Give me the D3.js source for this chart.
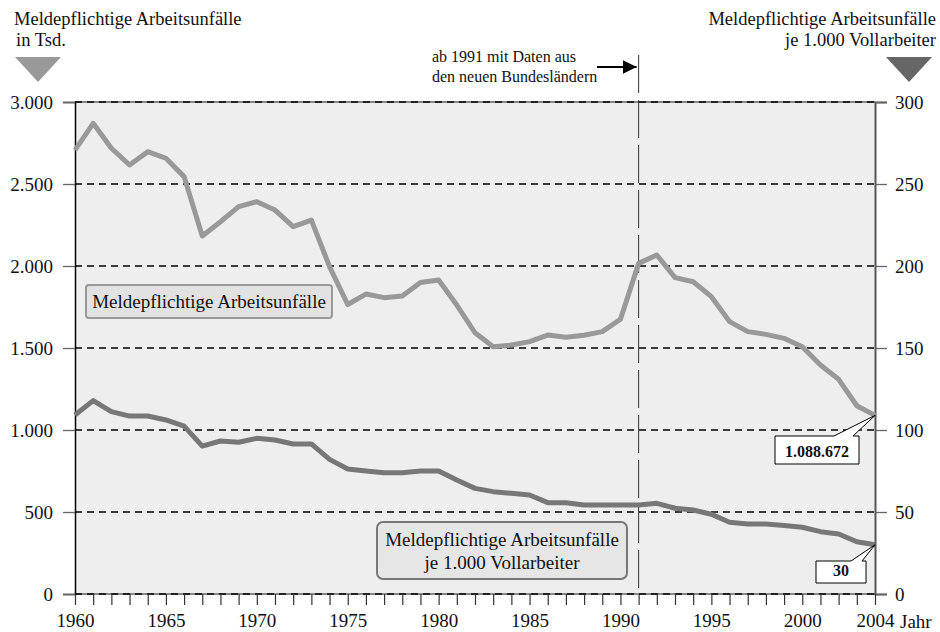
<!DOCTYPE html>
<html>
<head>
<meta charset="utf-8">
<script src="https://cdn.jsdelivr.net/npm/d3@7"></script>
<style>
  body { margin: 0; background: #fff; }
  text { font-family: "Liberation Serif", "DejaVu Serif", serif; fill: #111; }
</style>
</head>
<body>
<svg id="chart" width="940" height="632"></svg>
<script>
// data
const years = d3.range(1960, 2005);
const unfaelle = [2707, 2870, 2718, 2616, 2697, 2657, 2545, 2183, 2270, 2362,
    2392, 2341, 2240, 2280, 1996, 1765, 1829, 1807, 1817, 1900,
    1915, 1762, 1593, 1508, 1518, 1539, 1579, 1565, 1578, 1600,
    1675, 2016, 2067, 1929, 1904, 1813, 1661, 1600, 1583, 1559,
    1508, 1396, 1309, 1148, 1089];
const jeVollarbeiter = [109.2, 117.9, 111.2, 108.5, 108.5, 106.1, 102.4, 90.2, 93.3, 92.5,
    94.9, 93.9, 91.5, 91.5, 82.1, 76.2, 75.0, 74.0, 74.0, 75.0,
    75.0, 69.5, 64.4, 62.4, 61.4, 60.4, 55.7, 55.7, 54.3, 54.3,
    54.3, 54.3, 55.3, 52.3, 51.2, 48.6, 43.7, 42.7, 42.7, 41.7,
    40.7, 38.0, 36.6, 31.9, 30.0];
const leftTicks = [0, 500, 1000, 1500, 2000, 2500, 3000];
const rightTicks = [0, 50, 100, 150, 200, 250, 300];
const yearLabels = [1960, 1965, 1970, 1975, 1980, 1985, 1990, 1995, 2000, 2004];
const lastLabels = ["1.088.672", "30"];

const svg = d3.select("#chart");
const de = d3.formatLocale({decimal: ",", thousands: ".", grouping: [3], currency: ["", " €"]});
const fmt = de.format(",d");

let x = d3.scaleLinear().domain([1960, 2004]).range([75, 875]);
let yL = d3.scaleLinear().domain([0, 3000]).range([594, 102]);
let yR = d3.scaleLinear().domain([0, 300]).range([594, 102]);

// plot background
svg.append("rect")
    .attr("x", x(1960)).attr("y", yL(3000))
    .attr("width", x(2004) - x(1960)).attr("height", yL(0) - yL(3000))
    .attr("fill", "#eeeeee");
svg.append("line")
    .attr("x1", x(1960)).attr("x2", x(2004))
    .attr("y1", yL(3000)).attr("y2", yL(3000))
    .attr("stroke", "#888").attr("stroke-width", 2);
svg.append("line")
    .attr("x1", x(1960)).attr("x2", x(2004))
    .attr("y1", yL(0)).attr("y2", yL(0))
    .attr("stroke", "#888").attr("stroke-width", 2);

// dashed grid
svg.selectAll(".grid").data(leftTicks).enter().append("line")
    .attr("x1", x(1960)).attr("x2", x(2004))
    .attr("y1", d => yL(d)).attr("y2", d => yL(d))
    .attr("stroke", "#000").attr("stroke-width", 1.3)
    .attr("stroke-dasharray", "7,5");

// left axis
let leftAxis = d3.axisLeft(yL).tickValues(leftTicks).tickSize(12).tickPadding(10)
    .tickFormat(d => fmt(d));
let gl = svg.append("g").attr("transform", `translate(${x(1960)},0)`).call(leftAxis);
gl.select(".domain").attr("stroke", "#000").attr("stroke-width", 1.5);
gl.selectAll(".tick line").attr("stroke", "#666").attr("stroke-width", 1.3);
gl.selectAll(".tick text").attr("font-size", 19).attr("font-family", "Liberation Serif").attr("fill", "#111");

// right axis
let rightAxis = d3.axisRight(yR).tickValues(rightTicks).tickSize(12).tickPadding(8);
let gr = svg.append("g").attr("transform", `translate(${x(2004)},0)`).call(rightAxis);
gr.select(".domain").attr("stroke", "#555").attr("stroke-width", 2);
gr.selectAll(".tick line").attr("stroke", "#666").attr("stroke-width", 1.3);
gr.selectAll(".tick text").attr("font-size", 19).attr("font-family", "Liberation Serif").attr("fill", "#111");

// bottom axis
let bottomAxis = d3.axisBottom(x).tickValues(years).tickSize(11).tickPadding(9)
    .tickFormat(d => yearLabels.includes(d) ? d : "");
let gb = svg.append("g").attr("transform", `translate(0,${yL(0)})`).call(bottomAxis);
gb.select(".domain").remove();
gb.selectAll(".tick line").attr("stroke", "#333").attr("stroke-width", 1.2);
gb.selectAll(".tick text").attr("font-size", 19).attr("font-family", "Liberation Serif").attr("fill", "#111");
svg.append("text").attr("x", 900).attr("y", 628).attr("font-size", 19).text("Jahr");

// 1991 marker
svg.append("line")
    .attr("x1", x(1991)).attr("x2", x(1991))
    .attr("y1", 55).attr("y2", yL(0))
    .attr("stroke", "#333").attr("stroke-width", 1)
    .attr("stroke-dasharray", "38,7");
svg.append("defs").append("marker")
    .attr("id", "arr").attr("viewBox", "0 0 10 10").attr("refX", 10).attr("refY", 5)
    .attr("markerWidth", 7).attr("markerHeight", 7).attr("orient", "auto")
    .append("path").attr("d", "M0,0 L10,5 L0,10 Z").attr("fill", "#000");
svg.append("line")
    .attr("x1", 597).attr("x2", x(1991) - 2).attr("y1", 67).attr("y2", 67)
    .attr("stroke", "#000").attr("stroke-width", 2).attr("marker-end", "url(#arr)");
svg.append("text").attr("x", 432).attr("y", 62).attr("font-size", 16).text("ab 1991 mit Daten aus");
svg.append("text").attr("x", 432).attr("y", 82).attr("font-size", 16).text("den neuen Bundesländern");

// lines
let line1 = d3.line().x((d, i) => x(years[i])).y(d => yL(d));
let line2 = d3.line().x((d, i) => x(years[i])).y(d => yR(d));
svg.append("path").attr("d", line1(unfaelle))
    .attr("fill", "none").attr("stroke", "#999").attr("stroke-width", 5).attr("stroke-linejoin", "round");
svg.append("path").attr("d", line2(jeVollarbeiter))
    .attr("fill", "none").attr("stroke", "#777").attr("stroke-width", 5).attr("stroke-linejoin", "round");

// series labels
svg.append("rect").attr("x", 86).attr("y", 285).attr("width", 246).attr("height", 33).attr("rx", 3)
    .attr("fill", "#e2e2e2").attr("stroke", "#999").attr("stroke-width", 2);
svg.append("text").attr("x", 209).attr("y", 308).attr("font-size", 19).attr("text-anchor", "middle")
    .text("Meldepflichtige Arbeitsunfälle");
svg.append("rect").attr("x", 377).attr("y", 522).attr("width", 250).attr("height", 57).attr("rx", 6)
    .attr("fill", "#e6e6e6").attr("stroke", "#777").attr("stroke-width", 2);
svg.append("text").attr("x", 502).attr("y", 546).attr("font-size", 19).attr("text-anchor", "middle")
    .text("Meldepflichtige Arbeitsunfälle");
svg.append("text").attr("x", 502).attr("y", 569).attr("font-size", 19).attr("text-anchor", "middle")
    .text("je 1.000 Vollarbeiter");

// callouts at 2004
function callout(px, py, bx, by, bw, bh, p1, p2, label){
    svg.append("path")
        .attr("d", `M${bx},${by} L${p1},${by} L${px},${py} L${p2},${by} L${bx + bw},${by} L${bx + bw},${by + bh} L${bx},${by + bh} Z`)
        .attr("fill", "#fff").attr("stroke", "#000").attr("stroke-width", 1);
    svg.append("text").attr("x", bx + bw / 2).attr("y", by + bh - 7)
        .attr("font-size", 16).attr("font-weight", "bold").attr("text-anchor", "middle")
        .text(label);
}
callout(x(2004), yL(unfaelle[unfaelle.length - 1]), 775, 436, 84, 28, 834, 853, lastLabels[0]);
callout(x(2004), yR(jeVollarbeiter[jeVollarbeiter.length - 1]), 816, 561, 50, 22, 851, 862, lastLabels[1]);

// axis titles
svg.append("text").attr("x", 14).attr("y", 25).attr("font-size", 18.5).text("Meldepflichtige Arbeitsunfälle");
svg.append("text").attr("x", 16).attr("y", 46).attr("font-size", 18.5).text("in Tsd.");
svg.append("path").attr("d", "M15,57 L61,57 L38,82 Z").attr("fill", "#999");
svg.append("text").attr("x", 936).attr("y", 25).attr("font-size", 18.5).attr("text-anchor", "end").text("Meldepflichtige Arbeitsunfälle");
svg.append("text").attr("x", 936).attr("y", 46).attr("font-size", 18.5).attr("text-anchor", "end").text("je 1.000 Vollarbeiter");
svg.append("path").attr("d", "M886,57 L932,57 L909,82 Z").attr("fill", "#666");
</script>
</body>
</html>
